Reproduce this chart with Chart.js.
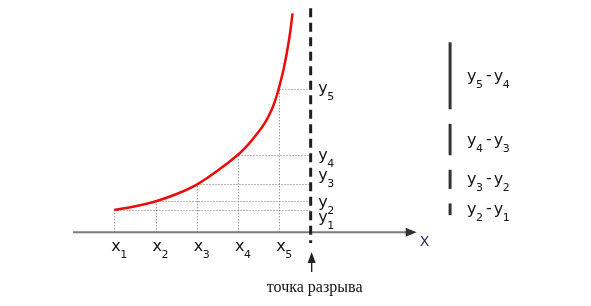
<!DOCTYPE html>
<html>
<head>
<meta charset="utf-8">
<script src="https://cdn.jsdelivr.net/npm/chart.js@4/dist/chart.umd.min.js"></script>
<style>
  html, body { margin: 0; padding: 0; background: #fff; }
  #wrap { width: 591px; height: 306px; }
</style>
</head>
<body>
<div id="wrap"><canvas id="c" width="591" height="306"></canvas></div>
<script>
// curve (x in units of x-steps, y in arbitrary units)
const curveX = [1.0, 1.54, 2.03, 2.51, 3.01, 3.5, 3.99, 4.25, 4.45, 4.65, 4.82, 4.94, 5.02, 5.10, 5.18, 5.26, 5.32];
const curveY = [2.23, 2.63, 3.13, 3.83, 4.8, 6.15, 7.73, 8.8, 9.8, 10.95, 12.3, 13.7, 14.9, 16.23, 17.9, 19.9, 21.9];

// sample points x1..x5 and their values y1..y5
const xPoints = [1, 2, 3, 4, 5];
const yLevels = [2.23, 3.13, 4.8, 7.73, 14.33];
const subLabels = ['1', '2', '3', '4', '5'];

// discontinuity and axis extent
const breakX = 5.76;
const axisStart = 0;
const axisEnd = 8.33;
const breakText = 'точка разрыва';

const MAIN_FONT = '16px "DejaVu Sans"';
const SUB_FONT = '11px "DejaVu Sans"';
const TEXT_COLOR = '#151515';

// small hand nudges for the y labels next to the dashed line (px)
const labelNudge = [12, 5.5, -4, 5, 4];

function drawSubLabel(ctx, main, sub, x, base) {
    ctx.font = MAIN_FONT;
    ctx.textAlign = 'left';
    ctx.textBaseline = 'alphabetic';
    ctx.fillText(main, x, base);
    const w = ctx.measureText(main).width;
    ctx.font = SUB_FONT;
    ctx.fillText(sub, x + w - 0.5, base + 7);
    const sw = ctx.measureText(sub).width;
    ctx.font = MAIN_FONT;
    return w - 0.5 + sw;
}

const diagramPlugin = {
    id: 'diagram',
    beforeDatasetsDraw(chart) {
        const { ctx, scales: { x, y } } = chart;
        const y0 = y.getPixelForValue(0);
        ctx.save();

        // dotted guides
        ctx.strokeStyle = '#6e6e6e';
        ctx.lineWidth = 1;
        ctx.setLineDash([1, 2]);
        xPoints.forEach((xv, i) => {
            const px = Math.round(x.getPixelForValue(xv)) + 0.5;
            const py = Math.round(y.getPixelForValue(yLevels[i])) + 0.5;
            ctx.beginPath();
            ctx.moveTo(px, y0);
            ctx.lineTo(px, py);
            ctx.moveTo(px, py);
            ctx.lineTo(x.getPixelForValue(breakX), py);
            ctx.stroke();
        });
        ctx.setLineDash([]);

        // x axis with arrow
        const ax0 = x.getPixelForValue(axisStart);
        const ax1 = x.getPixelForValue(axisEnd);
        ctx.strokeStyle = '#7a7a7a';
        ctx.lineWidth = 2;
        ctx.beginPath();
        ctx.moveTo(ax0, y0);
        ctx.lineTo(ax1 - 8, y0);
        ctx.stroke();
        ctx.fillStyle = '#333';
        ctx.beginPath();
        ctx.moveTo(ax1, y0);
        ctx.lineTo(ax1 - 11, y0 - 4.5);
        ctx.lineTo(ax1 - 11, y0 + 4.5);
        ctx.closePath();
        ctx.fill();

        // dashed line at the break
        const bx = x.getPixelForValue(breakX);
        ctx.strokeStyle = '#1e1e1e';
        ctx.lineWidth = 3;
        ctx.setLineDash([9, 5.5]);
        ctx.beginPath();
        ctx.moveTo(bx, y.getPixelForValue(22.4));
        ctx.lineTo(bx, y.getPixelForValue(-1.07));
        ctx.stroke();
        ctx.setLineDash([]);

        // arrow pointing at the break
        const tip = y.getPixelForValue(-1.97);
        const tail = y.getPixelForValue(-3.97);
        const abx = bx + 1;
        ctx.strokeStyle = '#222';
        ctx.lineWidth = 1.4;
        ctx.beginPath();
        ctx.moveTo(abx, tail);
        ctx.lineTo(abx, tip + 6);
        ctx.stroke();
        ctx.fillStyle = '#222';
        ctx.beginPath();
        ctx.moveTo(abx, tip);
        ctx.lineTo(abx - 4, tip + 11);
        ctx.lineTo(abx + 4, tip + 11);
        ctx.closePath();
        ctx.fill();
        ctx.restore();
    },
    afterDatasetsDraw(chart) {
        const { ctx, scales: { x, y } } = chart;
        const y0 = y.getPixelForValue(0);
        const bx = x.getPixelForValue(breakX);
        ctx.save();
        ctx.fillStyle = TEXT_COLOR;

        // x1..x5 under the axis
        xPoints.forEach((xv, i) => {
            drawSubLabel(ctx, 'x', subLabels[i], x.getPixelForValue(xv) - 3, y0 + 19);
        });

        // y1..y5 beside the dashed line
        yLevels.forEach((yv, i) => {
            drawSubLabel(ctx, 'y', subLabels[i], bx + 7.5, y.getPixelForValue(yv) + labelNudge[i]);
        });

        // axis name
        ctx.font = '14px "DejaVu Sans"';
        ctx.fillStyle = '#1c2b55';
        ctx.textBaseline = 'alphabetic';
        ctx.fillText('X', x.getPixelForValue(axisEnd) + 3, y0 + 14);

        // caption under the arrow
        ctx.fillStyle = '#111';
        ctx.font = '16px "Liberation Serif"';
        ctx.textAlign = 'center';
        ctx.fillText(breakText, bx + 4, y.getPixelForValue(-5.95));

        // bars showing the differences y(i+1) - y(i), from the top down
        const barX = x.getPixelForValue(9.14);
        const textX = x.getPixelForValue(9.55);
        let top = 19.0;
        for (let i = yLevels.length - 1; i > 0; i--) {
            const diff = yLevels[i] - yLevels[i - 1];
            const bottom = top - (diff * 0.97 + 0.3);
            const pTop = y.getPixelForValue(top);
            const pBot = y.getPixelForValue(bottom);
            ctx.strokeStyle = '#333';
            ctx.lineWidth = 3;
            ctx.beginPath();
            ctx.moveTo(barX, pTop);
            ctx.lineTo(barX, pBot);
            ctx.stroke();

            const base = (pTop + pBot) / 2 + 5;
            ctx.fillStyle = TEXT_COLOR;
            let cx = textX;
            cx += drawSubLabel(ctx, 'y', subLabels[i], cx, base) + 3;
            ctx.font = MAIN_FONT;
            ctx.textAlign = 'left';
            ctx.fillText('-', cx, base - 1);
            cx += ctx.measureText('-').width + 2;
            drawSubLabel(ctx, 'y', subLabels[i - 1], cx, base);

            top = bottom - 1.45;
        }
        ctx.restore();
    }
};

new Chart(document.getElementById('c'), {
    type: 'scatter',
    data: {
        datasets: [{
            data: curveX.map((v, i) => ({ x: v, y: curveY[i] })),
            showLine: true,
            borderColor: '#ee0a0a',
            borderWidth: 2.5,
            pointRadius: 0,
            tension: 0.3,
            fill: false
        }]
    },
    options: {
        responsive: false,
        animation: false,
        layout: { padding: 0 },
        plugins: {
            legend: { display: false },
            tooltip: { enabled: false }
        },
        scales: {
            x: { type: 'linear', display: false, min: -1.771, max: 12.556 },
            y: { type: 'linear', display: false, min: -7.37, max: 23.23 }
        }
    },
    plugins: [diagramPlugin]
});
</script>
</body>
</html>
